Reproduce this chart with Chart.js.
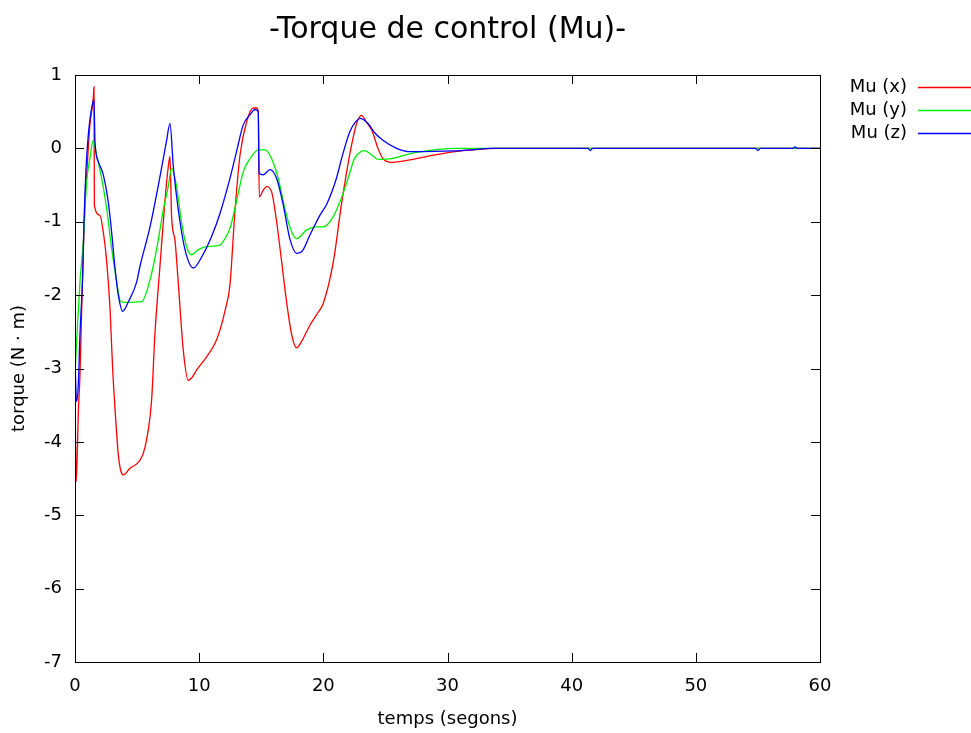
<!DOCTYPE html>
<html>
<head>
<meta charset="utf-8">
<title>Torque de control (Mu)</title>
<script src="https://cdn.jsdelivr.net/npm/chart.js@4.4.1/dist/chart.umd.min.js"></script>
<style>
  html, body { margin: 0; padding: 0; background: #fff; }
  canvas { display: block; }
</style>
</head>
<body>
<canvas id="torque-chart" width="971" height="733"></canvas>
<script>
// Chart data
const chartTitle = '-Torque de control (Mu)-';
const seriesLabels = ['Mu (x)', 'Mu (y)', 'Mu (z)'];
const seriesColors = ['#ff0000', '#00ee00', '#0000ff'];
const xTicks = [0, 10, 20, 30, 40, 50, 60];
const yTicks = [-7, -6, -5, -4, -3, -2, -1, 0, 1];

// Mu (x)
const timeX = [0, 0.05, 0.1, 0.27, 0.4, 0.54, 0.67, 0.8, 0.94, 1.2, 1.47, 1.53, 1.56, 2.0, 2.28, 2.55, 2.82, 3.03, 3.22, 3.49,
    3.7, 3.89, 4.43, 5.23, 5.64, 6.17, 6.44, 6.84, 7.25, 7.51, 7.65, 7.78, 8.05, 8.32, 8.72, 9.12, 9.39, 9.8, 10.6, 11.27,
    11.67, 12.1, 12.48, 12.88, 13.29, 13.82, 14.36, 14.63, 14.76, 14.84, 15.16, 15.43, 15.83, 16.24, 16.64, 17.04, 17.45,
    17.85, 18.25, 18.92, 19.6, 20.0, 20.8, 21.47, 22.14, 22.7, 23.08, 23.5, 23.9, 24.4, 24.8, 25.5, 26.5, 27.5, 29.0, 30.6,
    32.0, 34.0, 60];
const muX = [-3.3, -4.1, -4.54, -3.59, -3.09, -2.18, -1.36, -0.73, -0.36, 0.32, 0.68, 0.84, -0.77, -0.91, -1.14, -1.54, -2.18, -3.0, -3.54, -4.18,
    -4.4, -4.45, -4.36, -4.25, -4.07, -3.43, -2.52, -1.61, -0.70, -0.25, -0.11, -0.93, -1.25, -1.84, -2.75, -3.16, -3.13, -3.02, -2.84, -2.66,
    -2.48, -2.2, -1.86, -0.86, -0.09, 0.36, 0.55, 0.55, 0.5, -0.66, -0.57, -0.52, -0.59, -1.0, -1.54, -2.09, -2.54,
    -2.72, -2.63, -2.41, -2.23, -2.11, -1.55, -0.75, -0.07, 0.35, 0.45, 0.35, 0.25, 0.0, -0.14, -0.19, -0.17, -0.14, -0.09, -0.045,
    -0.02, 0, 0];

// Mu (y)
const timeY = [0, 0.13, 0.4, 0.67, 0.94, 1.2, 1.47, 1.74, 2.15, 2.55, 2.95, 3.36, 3.62, 4.0, 5.37, 6.04, 6.57, 7.11, 7.51, 7.78,
    8.18, 8.59, 8.99, 9.39, 9.93, 10.6, 11.67, 12.0, 12.48, 13.0, 13.55, 14.1, 14.76, 15.3, 15.83, 16.37, 16.9, 17.45, 17.85,
    18.66, 19.46, 20.0, 20.8, 21.6, 22.1, 22.5, 23.08, 23.35, 23.9, 24.4, 25.5, 27.0, 28.5, 30.5, 60];
const muY = [-3.09, -2.63, -1.82, -1.27, -0.45, -0.14, 0.11, -0.09, -0.41, -0.82, -1.36, -1.82, -2.07, -2.1, -2.09, -1.79, -1.38, -0.84, -0.52, -0.27,
    -0.52, -1.02, -1.34, -1.45, -1.38, -1.34, -1.32, -1.25, -1.09, -0.73, -0.32, -0.14, -0.02, -0.02, -0.14, -0.41, -0.82, -1.14, -1.23,
    -1.11, -1.07, -1.07, -0.93, -0.61, -0.35, -0.14, -0.04, -0.03, -0.09, -0.15, -0.14, -0.07, -0.03, 0.0, 0];

// Mu (z)
const timeZ = [0, 0.13, 0.27, 0.4, 0.62, 0.72, 0.89, 1.07, 1.34, 1.53, 1.61, 1.88, 2.28, 2.68, 2.95, 3.22, 3.49, 3.84, 4.3, 4.97,
    5.23, 6.04, 6.84, 7.38, 7.65, 7.92, 8.32, 8.86, 9.53, 10.2, 11.0, 11.67, 12.48, 13.0, 13.55, 14.1, 14.5, 14.76, 14.82,
    15.16, 15.7, 16.24, 16.77, 17.3, 17.85, 18.25, 18.92, 19.73, 20.3, 21.07, 21.5, 22.14, 22.6, 22.95, 23.6, 24.1, 24.8,
    25.9, 27.0, 30.5, 32.0, 33.5, 41.3, 41.5, 41.7, 54.8, 55.0, 55.2, 57.8, 58.0, 58.2, 60];
const muZ = [-2.9, -3.45, -3.2, -2.54, -1.73, -1.04, -0.27, 0.18, 0.55, 0.66, 0.09, -0.18, -0.36, -0.73, -1.14, -1.63, -2.0, -2.22, -2.09, -1.82,
    -1.61, -1.07, -0.39, 0.11, 0.34, -0.25, -0.84, -1.38, -1.63, -1.48, -1.2, -0.89, -0.41, -0.05, 0.32, 0.46, 0.53, 0.5, -0.34,
    -0.36, -0.29, -0.41, -0.77, -1.23, -1.43, -1.41, -1.18, -0.91, -0.75, -0.4, -0.12, 0.23, 0.36, 0.41, 0.34, 0.22, 0.11,
    0.0, -0.045, -0.035, -0.02, 0, 0, -0.03, 0, 0, -0.03, 0, 0, 0.02, 0, 0];

// Build {x, y} points
function toPoints(times, values) {
    return times.map((t, i) => ({ x: t, y: values[i] }));
}

const FONT = 'DejaVu Sans, sans-serif';

// Box around plot area with inward tick marks on every side
const frameTicksPlugin = {
    id: 'frameTicks',
    afterDatasetsDraw(chart) {
        const { ctx, chartArea: a, scales } = chart;
        const len = 9;
        ctx.save();
        ctx.strokeStyle = '#000';
        ctx.lineWidth = 1;
        ctx.beginPath();
        xTicks.forEach(v => {
            const px = Math.round(scales.x.getPixelForValue(v)) + 0.5;
            ctx.moveTo(px, a.bottom); ctx.lineTo(px, a.bottom - len);
            ctx.moveTo(px, a.top); ctx.lineTo(px, a.top + len);
        });
        yTicks.forEach(v => {
            const py = Math.round(scales.y.getPixelForValue(v)) + 0.5;
            ctx.moveTo(a.left, py); ctx.lineTo(a.left + len, py);
            ctx.moveTo(a.right, py); ctx.lineTo(a.right - len, py);
        });
        ctx.stroke();
        ctx.strokeRect(Math.round(a.left) + 0.5, Math.round(a.top) + 0.5,
            Math.round(a.right - a.left), Math.round(a.bottom - a.top));
        ctx.restore();
    }
};

// Title and gnuplot-like legend (text then line sample)
const titleLegendPlugin = {
    id: 'titleLegend',
    afterDraw(chart) {
        const { ctx, chartArea: a } = chart;
        ctx.save();
        ctx.fillStyle = '#000';
        ctx.font = '30px ' + FONT;
        ctx.textAlign = 'center';
        ctx.textBaseline = 'alphabetic';
        ctx.fillText(chartTitle, (a.left + a.right) / 2, 38);

        ctx.font = '18px ' + FONT;
        ctx.textAlign = 'right';
        ctx.textBaseline = 'middle';
        chart.data.datasets.forEach((ds, i) => {
            const y = 87 + i * 23;
            ctx.fillStyle = '#000';
            ctx.fillText(ds.label, 907, y);
            ctx.strokeStyle = ds.borderColor;
            ctx.lineWidth = 1.3;
            ctx.beginPath();
            ctx.moveTo(918, y + 0.5);
            ctx.lineTo(971, y + 0.5);
            ctx.stroke();
        });
        ctx.restore();
    }
};

const seriesTimes = [timeX, timeY, timeZ];
const seriesValues = [muX, muY, muZ];

const torqueChart = new Chart(document.getElementById('torque-chart').getContext('2d'), {
    type: 'line',
    data: {
        datasets: seriesLabels.map((label, i) => ({
            label: label,
            data: toPoints(seriesTimes[i], seriesValues[i]),
            borderColor: seriesColors[i],
            borderWidth: 1.3,
            pointRadius: 0,
            cubicInterpolationMode: 'monotone',
            fill: false,
            order: 3 - i
        }))
    },
    options: {
        responsive: false,
        animation: false,
        layout: { padding: { top: 75, right: 151, left: 0, bottom: 0 } },
        plugins: {
            legend: { display: false },
            title: { display: false },
            tooltip: { enabled: false }
        },
        scales: {
            x: {
                type: 'linear',
                min: 0,
                max: 60,
                afterFit(scale) { scale.height = 71; },
                afterBuildTicks(scale) { scale.ticks = xTicks.map(v => ({ value: v })); },
                grid: { display: false, drawTicks: false },
                border: { display: false },
                ticks: { color: '#000', padding: 14, font: { family: FONT, size: 18 } },
                title: {
                    display: true,
                    text: 'temps (segons)',
                    color: '#000',
                    font: { family: FONT, size: 18 },
                    padding: { top: 0, bottom: 3 }
                }
            },
            y: {
                type: 'linear',
                min: -7,
                max: 1,
                afterFit(scale) { scale.width = 75; },
                afterBuildTicks(scale) { scale.ticks = yTicks.map(v => ({ value: v })); },
                grid: { display: false, drawTicks: false },
                border: { display: false },
                ticks: { color: '#000', padding: 13, font: { family: FONT, size: 18 } },
                title: {
                    display: true,
                    text: 'torque (N · m)',
                    color: '#000',
                    font: { family: FONT, size: 18 },
                    padding: { top: 9, bottom: 0 }
                }
            }
        }
    },
    plugins: [frameTicksPlugin, titleLegendPlugin]
});
</script>
</body>
</html>
